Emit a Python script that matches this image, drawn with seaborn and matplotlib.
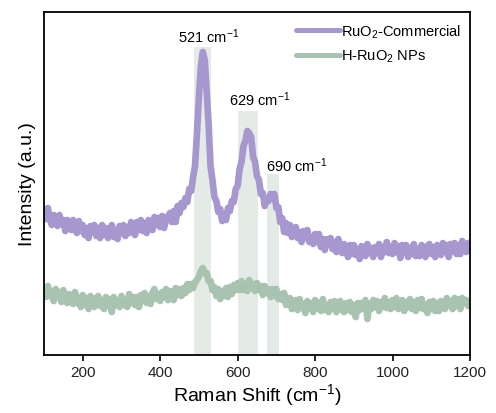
import numpy as np
import pandas as pd
import matplotlib
matplotlib.use("Agg")
import matplotlib.pyplot as plt
import seaborn as sns

# Raman shift grid (cm^-1)
shift = np.arange(100, 1201, 5)

# RuO2-Commercial intensity (a.u., offset)
ruo2_commercial = [
    146, 136, 147, 136, 130, 140, 137, 129, 140, 131,
    135, 124, 135, 130, 125, 135, 126, 122, 134, 124,
    130, 120, 127, 117, 129, 123, 130, 119, 127, 117,
    130, 121, 127, 117, 124, 130, 118, 125, 116, 129,
    122, 130, 119, 128, 122, 133, 126, 120, 133, 125,
    135, 124, 132, 122, 135, 132, 125, 138, 130, 137,
    128, 139, 127, 138, 135, 142, 133, 144, 133, 149,
    142, 152, 148, 157, 153, 166, 164, 178, 189, 222,
    258, 288, 303, 295, 264, 231, 189, 175, 158, 154,
    143, 146, 134, 140, 135, 147, 144, 154, 153, 166,
    169, 186, 193, 209, 214, 224, 222, 218, 198, 193,
    179, 175, 161, 162, 149, 156, 154, 161, 157, 161,
    147, 148, 133, 137, 123, 132, 122, 130, 118, 124,
    128, 117, 123, 113, 124, 117, 125, 113, 118, 111,
    121, 113, 121, 108, 116, 105, 116, 111, 117, 106,
    113, 103, 116, 106, 102, 111, 107, 98, 110, 101,
    110, 100, 106, 96, 109, 104, 99, 111, 102, 107,
    98, 108, 104, 111, 98, 108, 103, 113, 102, 108,
    101, 112, 103, 109, 97, 110, 103, 110, 98, 107,
    101, 111, 99, 106, 99, 110, 104, 98, 109, 111,
    101, 108, 98, 110, 105, 100, 112, 103, 110, 98,
    111, 104, 112, 101, 110, 101, 114, 106, 103, 112,
    107,
]

# H-RuO2 NPs intensity (a.u., offset)
h_ruo2_nps = [
    68, 58, 69, 59, 64, 54, 66, 58, 63, 53,
    65, 56, 52, 61, 58, 51, 63, 52, 57, 48,
    60, 50, 57, 46, 59, 52, 48, 57, 59, 49,
    55, 46, 58, 50, 56, 43, 58, 50, 55, 48,
    59, 50, 54, 48, 61, 52, 58, 50, 58, 48,
    60, 54, 62, 52, 59, 51, 62, 66, 56, 61,
    54, 63, 58, 66, 55, 64, 62, 55, 67, 60,
    66, 59, 67, 62, 71, 65, 71, 67, 73, 75,
    78, 84, 87, 82, 82, 74, 74, 65, 68, 59,
    66, 56, 64, 59, 67, 58, 68, 61, 70, 65,
    72, 65, 74, 65, 71, 64, 75, 67, 71, 64,
    72, 65, 69, 60, 69, 62, 66, 58, 66, 59,
    66, 56, 61, 55, 62, 50, 55, 57, 46, 54,
    55, 45, 56, 47, 51, 42, 54, 47, 52, 43,
    55, 47, 52, 44, 56, 45, 50, 43, 53, 46,
    54, 43, 50, 54, 45, 43, 52, 45, 53, 43,
    50, 38, 52, 45, 52, 47, 55, 36, 51, 46,
    55, 48, 54, 44, 53, 48, 57, 47, 53, 46,
    55, 48, 57, 46, 52, 55, 44, 53, 48, 56,
    46, 53, 44, 55, 47, 56, 46, 50, 42, 53,
    46, 54, 44, 52, 44, 54, 51, 46, 57, 49,
    54, 46, 57, 49, 56, 46, 57, 52, 55, 49,
    53,
]

series_names = ["RuO$_2$-Commercial", "H-RuO$_2$ NPs"]
series_colors = ["#a698cf", "#a9c3b1"]

# Highlighted Raman modes
peak_labels = ["521 cm$^{-1}$", "629 cm$^{-1}$", "690 cm$^{-1}$"]
band_lo = [487, 601, 676]
band_hi = [531, 653, 707]
band_top = [308, 244, 181]

df = pd.concat([
    pd.DataFrame({"shift": shift, "intensity": ruo2_commercial, "sample": series_names[0]}),
    pd.DataFrame({"shift": shift, "intensity": h_ruo2_nps, "sample": series_names[1]}),
])

sns.set_style("ticks")
plt.rcParams["font.family"] = ["Liberation Sans", "DejaVu Sans"]
plt.rcParams["mathtext.fontset"] = "custom"
plt.rcParams["mathtext.rm"] = "Liberation Sans"
plt.rcParams["mathtext.it"] = "Liberation Sans:italic"
plt.rcParams["text.color"] = "black"
plt.rcParams["axes.labelcolor"] = "black"
plt.rcParams["xtick.color"] = "black"

fig = plt.figure(figsize=(4.96, 4.14), dpi=100)
ax = fig.add_axes([0.0887, 0.140, 0.9476 - 0.0887, 0.9686 - 0.140])

ymax = 343
for lo, hi, top in zip(band_lo, band_hi, band_top):
    ax.axvspan(lo, hi, ymin=0, ymax=top / ymax, color="#e4ebe6", lw=0, zorder=0)

sns.lineplot(data=df, x="shift", y="intensity", hue="sample",
             palette=dict(zip(series_names, series_colors)),
             linewidth=4.8, ax=ax, zorder=2)

ax.set_xlim(100, 1200)
ax.set_ylim(0, ymax)
ax.set_yticks([])
ax.set_xticks([200, 400, 600, 800, 1000, 1200])
ax.tick_params(axis="x", labelsize=11, length=4, width=1.2, direction="out", pad=3,
               labelcolor="#222222")
for s in ax.spines.values():
    s.set_linewidth(1.3)
    s.set_color("black")

ax.set_xlabel("Raman Shift (cm$^{-1}$)", fontsize=14, labelpad=2)
ax.set_ylabel("Intensity (a.u.)", fontsize=14, labelpad=6)

label_x = [526, 656, 753]
label_y = [319, 256, 190]
for txt, lx, ly in zip(peak_labels, label_x, label_y):
    ax.text(lx, ly, txt, ha="center", va="center", fontsize=10.5)

leg = ax.legend(loc="upper right", frameon=False, fontsize=10.5, handlelength=3.0,
                handletextpad=0.1, borderaxespad=0.2, labelspacing=0.55,
                bbox_to_anchor=(1.0, 0.995))
for h in leg.get_lines():
    h.set_linewidth(3.6)

fig.savefig("out.png", dpi=100)
